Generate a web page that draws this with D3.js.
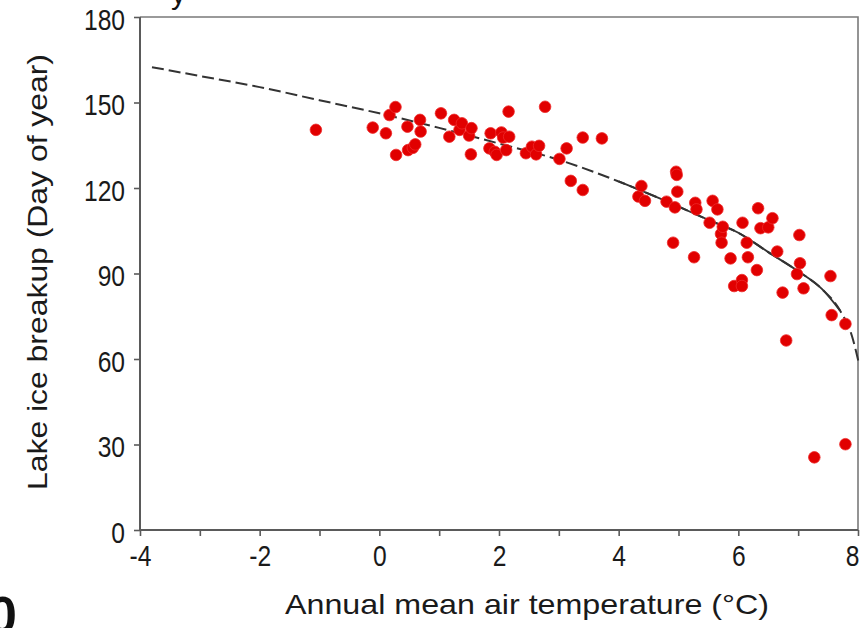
<!DOCTYPE html>
<html>
<head>
<meta charset="utf-8">
<script src="https://cdn.jsdelivr.net/npm/d3@7"></script>
<style>
  html, body { margin: 0; padding: 0; background: #fff; }
  svg { display: block; }
  text { font-family: "Liberation Sans", Arial, Helvetica, sans-serif; }
</style>
</head>
<body>
<svg id="chart" width="862" height="628"></svg>
<script>
// ---- data ----
const temperature = [
  -1.06, -0.11, 0.11, 0.17, 0.27, 0.28, 0.47, 0.48, 0.56, 0.60,
  0.68, 0.69, 1.03, 1.17, 1.25, 1.34, 1.38, 1.50, 1.53, 1.54,
  1.84, 1.86, 1.93, 1.96, 2.04, 2.07, 2.12, 2.16, 2.17, 2.45,
  2.55, 2.62, 2.67, 2.77, 3.01, 3.13, 3.20, 3.40, 3.40, 3.72,
  4.33, 4.38, 4.44, 4.80, 4.91, 4.94, 4.96, 4.97, 4.98, 5.26,
  5.28, 5.30, 5.52, 5.57, 5.65, 5.71, 5.72, 5.74, 5.87, 5.93,
  6.06, 6.06, 6.07, 6.14, 6.16, 6.31, 6.33, 6.37, 6.50, 6.57,
  6.65, 6.74, 6.80, 6.98, 7.02, 7.03, 7.09, 7.27, 7.54, 7.56,
  7.79, 7.79
];
const breakupDay = [
  140.4, 141.2, 139.2, 145.6, 148.4, 131.6, 141.5, 133.3, 134.1, 135.3,
  143.9, 139.8, 146.2, 138.0, 143.9, 140.4, 142.7, 138.4, 131.8, 141.0,
  133.9, 139.2, 132.7, 131.6, 139.5, 137.7, 133.3, 146.8, 138.0, 132.2,
  134.5, 131.8, 134.8, 148.5, 130.2, 133.9, 122.5, 137.7, 119.3, 137.4,
  117.0, 120.7, 115.5, 115.2, 100.8, 113.2, 125.7, 124.6, 118.7, 95.7,
  114.8, 112.5, 107.8, 115.5, 112.5, 103.9, 100.8, 106.4, 95.3, 85.6,
  87.7, 85.6, 107.8, 100.8, 95.7, 91.2, 112.9, 105.9, 106.2, 109.4,
  97.7, 83.3, 66.5, 89.8, 103.5, 93.6, 84.8, 25.5, 89.1, 75.4,
  72.3, 30.1
];
// fitted curve
const fitTemp = [-3.8, -3, -2, -1, 0, 1, 2, 3, 4, 5, 5.5, 6, 6.5, 7, 7.4, 7.7, 7.9, 8.02];
const fitDay  = [162.4, 159.3, 155.4, 150.8, 146.2, 141.1, 135.6, 129.9, 122.3, 113.5, 108.8, 104.3, 97.5, 90.8, 84.5, 77.0, 68.0, 58.0];
const fitSolidFrom = 4;
const fitSolidTo = 7.7;

const xTicks = [-4, -3, -2, -1, 0, 1, 2, 3, 4, 5, 6, 7, 8];
const xTickLabels = ["-4", "", "-2", "", "0", "", "2", "", "4", "", "6", "", "8"];
const yTicks = [0, 30, 60, 90, 120, 150, 180];
const xTitle = "Annual mean air temperature (°C)";
const yTitle = "Lake ice breakup (Day of year)";

// ---- layout ----
const svg = d3.select("#chart");
const L = 140, R = 858, T = 17, B = 530;
const x = d3.scaleLinear().domain([-4, 8]).range([L, R]);
const y = d3.scaleLinear().domain([0, 180]).range([B, T]);
const axisColor = "#5a5a5a";

// frame (top & right)
svg.append("path")
  .attr("d", `M${L},${T}H${R}V${B}`)
  .attr("fill", "none").attr("stroke", "#7a7a7a").attr("stroke-width", 1.6);

// y axis
const gy = svg.append("g").attr("transform", `translate(${L},0)`)
  .call(d3.axisLeft(y).tickValues(yTicks).tickSize(6).tickPadding(9).tickFormat(d3.format("d")));
// x axis
const gx = svg.append("g").attr("transform", `translate(0,${B})`)
  .call(d3.axisBottom(x).tickValues(xTicks).tickSize(6).tickPadding(8)
    .tickFormat((d, i) => xTickLabels[i]));

[gx, gy].forEach(g => {
  g.select(".domain").attr("stroke", axisColor).attr("stroke-width", 2);
  g.selectAll(".tick line").attr("stroke", axisColor).attr("stroke-width", 1.6);
  g.selectAll(".tick text").attr("font-size", 30).attr("fill", "#1a1a1a")
    .attr("font-family", '"Liberation Sans", Arial, sans-serif').classed("cond", true);
});
gy.select(".domain").attr("d", `M-0,${B}V${T}`);
gx.select(".domain").attr("d", `M${L},0H${R}`);
gy.selectAll(".tick text").attr("dy", "0.4em");
gx.selectAll(".tick text").attr("dy", "0.74em");

// fitted curve
const fit = fitTemp.map((t, i) => ({ t, v: fitDay[i] }));
const line = d3.line().x(d => x(d.t)).y(d => y(d.v)).curve(d3.curveMonotoneX);
svg.append("path").datum(fit).attr("d", line)
  .attr("fill", "none").attr("stroke", "#333").attr("stroke-width", 2)
  .attr("stroke-dasharray", "12,5");
svg.append("path").datum(fit.filter(d => d.t >= fitSolidFrom && d.t <= fitSolidTo)).attr("d", line)
  .attr("fill", "none").attr("stroke", "#333").attr("stroke-width", 1.9);

// points
const pts = temperature.map((t, i) => ({ t, v: breakupDay[i] }));
svg.append("g").selectAll("circle").data(pts).join("circle")
  .attr("cx", d => x(d.t)).attr("cy", d => y(d.v)).attr("r", 5.8)
  .attr("fill", "#e10000").attr("stroke", "#ee2a2a").attr("stroke-width", 0.8);

// titles
svg.append("text").attr("x", 527).attr("y", 614).attr("text-anchor", "middle")
  .attr("font-size", 28).attr("fill", "#1a1a1a")
  .attr("textLength", 484).attr("lengthAdjust", "spacingAndGlyphs").text(xTitle);
svg.append("text").attr("transform", "translate(47,272) rotate(-90)").attr("text-anchor", "middle")
  .attr("font-size", 28).attr("fill", "#1a1a1a")
  .attr("textLength", 436).attr("lengthAdjust", "spacingAndGlyphs").text(yTitle);

// fragments cut off from neighbouring panels
svg.append("text").attr("x", 171).attr("y", 4).attr("font-size", 30).attr("fill", "#111").text("y");
svg.append("text").attr("x", -12).attr("y", 633).attr("font-size", 52).attr("font-weight", "bold")
  .attr("font-family", '"Liberation Serif", "Times New Roman", serif').attr("fill", "#111").text("0");

// slightly condensed tick labels, as in the reference
svg.selectAll("text.cond").each(function () {
  const len = this.getComputedTextLength();
  if (len > 0) d3.select(this).attr("textLength", len * 0.82).attr("lengthAdjust", "spacingAndGlyphs");
});
// keep the last x label inside the picture, as in the reference
gx.selectAll(".tick").filter(d => d === 8).select("text").attr("text-anchor", "end").attr("x", 1);
</script>
</body>
</html>
